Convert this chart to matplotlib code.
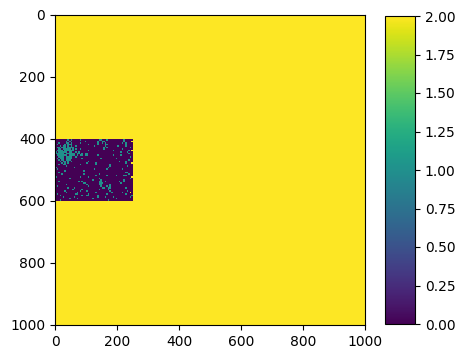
import numpy as np
import matplotlib
matplotlib.use('Agg')
import matplotlib.pyplot as plt

# full field value and size
N = 1000
FILL = 2

# block of the field that differs: rows 400-600, cols 0-250
BLOCK_ROW0 = 400
BLOCK_COL0 = 0
CELL = 5  # each mask character covers 5x5 samples

# mask ('.' = 0, '1' = 1, '2' = 2), 40 rows x 50 cols
BLOCK_MASK = [
    "........1.1.....1...........11...1..........1.....",
    ".......1.1.........1.......1..11............1....2",
    "..1....11.1.....1..........1..1.1..........1.1....",
    ".1....1.111..........1.....1....11...........1....",
    "...1.11.1.1..1...........1......1.......1....1....",
    ".11.111.1111...................1.1..............1.",
    "..11.11111.1.1..1..............1...........1......",
    ".1111.111111.........1...............1.........1.2",
    "1.111111.11..1.1..........................1...1...",
    "111111.111111.11.1.11..........................1..",
    ".1111111.1111.1.11.11......1.........1....1.......",
    "..1111.1111..1..................................1.",
    ".1.111.1111......1...........1.........1..........",
    "..1.11.111.....................................1..",
    "...1.11.1.1..........1...................1...1....",
    "....1.1.1...........1.....1..................1...2",
    "..1..11.........1.........1........1..............",
    ".......1...........................1..........1...",
    "1...........1.....................1...............",
    ".1.......................1.......1.........1......",
    "......1...........1...............................",
    "..1..........................................11...",
    "....1.............1.........1..................1..",
    "..........................1......1.....1....11....",
    "1...............1....1...........................2",
    ".........1..................1...................1.",
    "........................1....1..............1.....",
    "..1............1.1..........11..1........1..1.....",
    "..................11........111...........1.......",
    ".......1............1.......11.....1..............",
    ".1...................1.......1...1.1..............",
    "........1...1.................11..11.........1....",
    "...........1.....1..........1.....1...............",
    "......1.........1...1..............1..........1...",
    ".......1......1...........1.........1......1....2.",
    ".1...........11......1...........1...........1....",
    "...1.............1..11.....1.....................1",
    ".....1......1..............1....1....1..........1.",
    ".........1....1.........1..............1..........",
    "...1..............................1...............",
]

TICKS = [0, 200, 400, 600, 800, 1000]


def build_field():
    field = np.full((N, N), FILL, dtype=float)
    for i, row in enumerate(BLOCK_MASK):
        row = row.ljust(50, '.')[:50]
        for j, ch in enumerate(row):
            r = BLOCK_ROW0 + i * CELL
            c = BLOCK_COL0 + j * CELL
            field[r:r + CELL, c:c + CELL] = 0 if ch == '.' else int(ch)
    return field


field = build_field()

fig = plt.figure(figsize=(4.65, 3.59), dpi=100)
ax = fig.add_axes([55 / 465, 34 / 359, 310 / 465, 310 / 359])
cax = fig.add_axes([385 / 465, 35 / 359, 30 / 465, 308 / 359])

im = ax.imshow(field, cmap='viridis', vmin=0, vmax=2,
               extent=[0, N, N, 0], aspect='auto', interpolation='nearest')
ax.set_xticks(TICKS)
ax.set_yticks(TICKS)

fig.colorbar(im, cax=cax)

plt.savefig('out.png', dpi=100)
